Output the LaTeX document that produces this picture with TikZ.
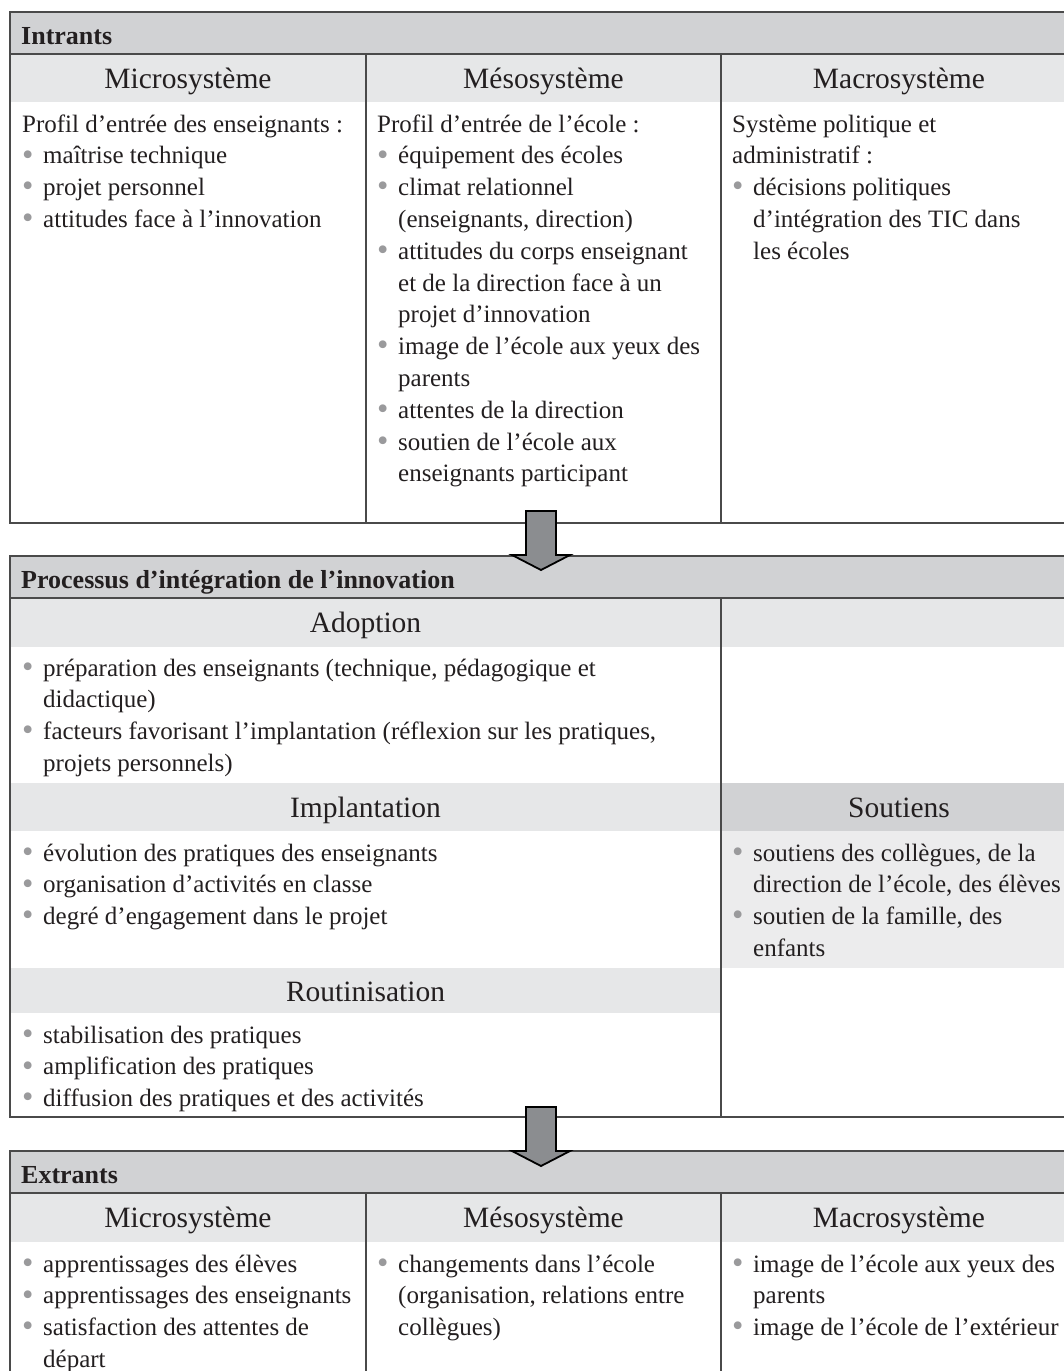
\documentclass[tikz,border=0pt]{standalone}
\usepackage{fontspec}
\setmainfont{Liberation Serif}
\definecolor{hdr}{HTML}{D1D2D4}
\definecolor{sub}{HTML}{E6E7E8}
\definecolor{sup}{HTML}{ECECED}
\definecolor{bord}{HTML}{4A4A4A}
\definecolor{arrfill}{HTML}{8B8D90}
\definecolor{bulgray}{HTML}{9A9A9C}
\definecolor{ink}{HTML}{231F20}
\newcommand\bul{\makebox[21pt][l]{\hspace{0pt}\raisebox{-1.2pt}{\textcolor{bulgray}{\scalebox{1.3}{•}}}}}
\newcommand\ind{\hspace*{21pt}}
\newcommand\cellbox[1]{\vtop{\baselineskip=31.8pt\lineskiplimit=-100pt\halign{##\hfil\cr#1\crcr}}}
\tikzset{
  body/.style={inner sep=0pt, anchor=base west, text=ink, font=\fontsize{25}{31.8}\selectfont},
  colhead/.style={inner sep=0pt, anchor=base, text=ink, font=\fontsize{29.5}{34}\selectfont},
  boxhead/.style={inner sep=0pt, anchor=base west, text=ink, font=\fontsize{26}{30}\selectfont\bfseries},
  frame/.style={draw=bord, line width=1.3pt},
  blockarrow/.style={fill=arrfill, draw=black, line width=1.8pt, line join=miter}
}
\begin{document}
\begin{tikzpicture}[x=1pt,y=-1pt]
\useasboundingbox (0,0) rectangle (1064,1371);
\clip (0,0) rectangle (1064,1371);
% ---------- Box 1 : Intrants
\fill[hdr] (10,12) rectangle (1077,54);
\fill[sub] (10,54) rectangle (1077,102);
\draw[frame] (10,12) rectangle (1077,523);
\draw[frame] (10,54) -- (1077,54);
\draw[frame] (366,54) -- (366,523);
\draw[frame] (721,54) -- (721,523);
\node[boxhead] (intr) at (21,44) {Intrants};
\node[colhead] (mic1) at (188,88) {Microsystème};
\node[colhead] (mes1) at (543.5,88) {Mésosystème};
\node[colhead] (mac1) at (899,88) {Macrosystème};
\node[body] (c11) at (22,132) {\cellbox{Profil d’entrée des enseignants :\cr
\bul maîtrise technique\cr
\bul projet personnel\cr
\bul attitudes face à l’innovation}};
\node[body] (c12) at (377,132) {\cellbox{Profil d’entrée de l’école :\cr
\bul équipement des écoles\cr
\bul climat relationnel\cr
\ind(enseignants, direction)\cr
\bul attitudes du corps enseignant\cr
\ind et de la direction face à un\cr
\ind projet d’innovation\cr
\bul image de l’école aux yeux des\cr
\ind parents\cr
\bul attentes de la direction\cr
\bul soutien de l’école aux\cr
\ind enseignants participant}};
\node[body] (c13) at (732,132) {\cellbox{Système politique et\cr
administratif :\cr
\bul décisions politiques\cr
\ind d’intégration des TIC dans\cr
\ind les écoles}};
% ---------- Box 2 : Processus
\fill[hdr] (10,556) rectangle (1077,598);
\fill[sub] (10,598) rectangle (1077,647);
\fill[sub] (10,783) rectangle (721,831);
\fill[hdr] (721,783) rectangle (1077,831);
\fill[sup] (721,831) rectangle (1077,968);
\fill[sub] (10,968) rectangle (721,1013);
\draw[frame] (10,556) rectangle (1077,1117);
\draw[frame] (10,598) -- (1077,598);
\draw[frame] (721,598) -- (721,1117);
\node[boxhead] (proc) at (21,588) {Processus d’intégration de l’innovation};
\node[colhead] (adop) at (365.5,632) {Adoption};
\node[colhead] (impl) at (365.5,817) {Implantation};
\node[colhead] (sout) at (899,817) {Soutiens};
\node[colhead] (rout) at (365.5,1001) {Routinisation};
\node[body] (c21) at (22,676) {\cellbox{\bul préparation des enseignants (technique, pédagogique et\cr
\ind didactique)\cr
\bul facteurs favorisant l’implantation (réflexion sur les pratiques,\cr
\ind projets personnels)}};
\node[body] (c22) at (22,861) {\cellbox{\bul évolution des pratiques des enseignants\cr
\bul organisation d’activités en classe\cr
\bul degré d’engagement dans le projet}};
\node[body] (c23) at (732,861) {\cellbox{\bul soutiens des collègues, de la\cr
\ind direction de l’école, des élèves\cr
\bul soutien de la famille, des\cr
\ind enfants}};
\node[body] (c24) at (22,1043) {\cellbox{\bul stabilisation des pratiques\cr
\bul amplification des pratiques\cr
\bul diffusion des pratiques et des activités}};
% ---------- Box 3 : Extrants
\fill[hdr] (10,1151) rectangle (1077,1193);
\fill[sub] (10,1193) rectangle (1077,1242);
\draw[frame] (10,1151) rectangle (1077,1420);
\draw[frame] (10,1193) -- (1077,1193);
\draw[frame] (366,1193) -- (366,1420);
\draw[frame] (721,1193) -- (721,1420);
\node[boxhead] (extr) at (21,1183) {Extrants};
\node[colhead] (mic3) at (188,1227) {Microsystème};
\node[colhead] (mes3) at (543.5,1227) {Mésosystème};
\node[colhead] (mac3) at (899,1227) {Macrosystème};
\node[body] (c31) at (22,1272) {\cellbox{\bul apprentissages des élèves\cr
\bul apprentissages des enseignants\cr
\bul satisfaction des attentes de\cr
\ind départ}};
\node[body] (c32) at (377,1272) {\cellbox{\bul changements dans l’école\cr
\ind(organisation, relations entre\cr
\ind collègues)}};
\node[body] (c33) at (732,1272) {\cellbox{\bul image de l’école aux yeux des\cr
\ind parents\cr
\bul image de l’école de l’extérieur}};
% ---------- Block arrows
\coordinate (a1) at (541,511);
\coordinate (a2) at (541,1107);
\foreach \c in {a1,a2}{
  \draw[blockarrow] ([xshift=-15pt]\c) -- ([xshift=15pt]\c) -- ([xshift=15pt,yshift=-44pt]\c)
    -- ([xshift=29pt,yshift=-44pt]\c) -- ([yshift=-59pt]\c) -- ([xshift=-29pt,yshift=-44pt]\c)
    -- ([xshift=-15pt,yshift=-44pt]\c) -- cycle;
}
\end{tikzpicture}
\end{document}
